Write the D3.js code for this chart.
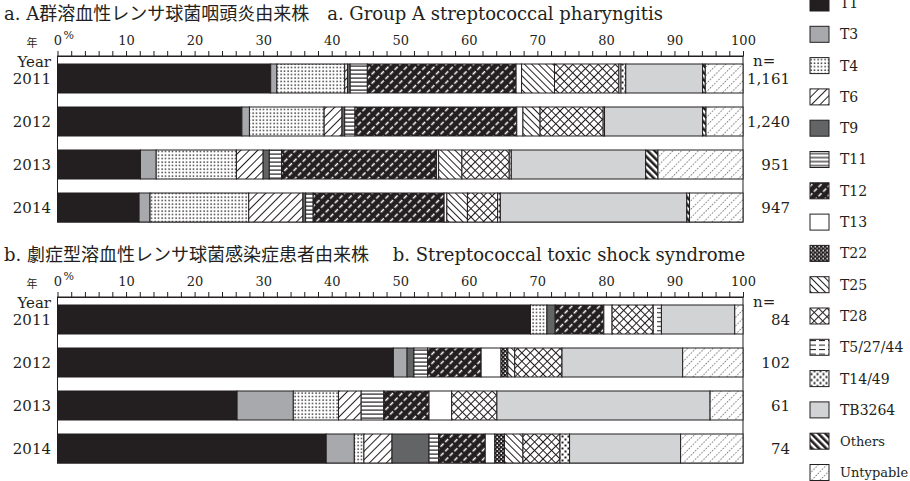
<!DOCTYPE html>
<html>
<head>
<meta charset="utf-8">
<script src="https://cdn.jsdelivr.net/npm/d3@7"></script>
<style>
  body { margin: 0; background: #fff; }
  svg { display: block; }
  text { font-family: "DejaVu Serif", "Noto Sans CJK JP", serif; fill: #231f20; }
  .axis path, .axis line { stroke: #231f20; stroke-width: 1; }
  .seg { stroke: #231f20; stroke-width: 1; }
</style>
</head>
<body>
<div id="chart"></div>
<script>
// emm types, in stacking / legend order
var types = ["T1", "T3", "T4", "T6", "T9", "T11", "T12", "T13", "T22", "T25",
             "T28", "T5/27/44", "T14/49", "TB3264", "Others", "Untypable"];
var years = ["2011", "2012", "2013", "2014"];
var percentTicks = [0, 10, 20, 30, 40, 50, 60, 70, 80, 90, 100];

// a. pharyngitis isolates, % per type
var phar2011 = [31.1, 0.9, 9.9, 0.4, 0.4, 2.5, 21.7, 0.8, 0, 4.8, 9.4, 0.3, 0.7, 11.2, 0.4, 5.5];
var phar2012 = [26.9, 1.1, 10.9, 2.6, 0.4, 1.5, 23.6, 0.9, 0, 2.5, 9.2, 0, 0.2, 14.3, 0.5, 5.4];
var phar2013 = [12.1, 2.3, 11.7, 3.9, 0.9, 1.8, 22.6, 0.3, 0, 3.4, 6.9, 0, 0.3, 19.6, 1.8, 12.4];
var phar2014 = [11.9, 1.6, 14.4, 7.9, 0.4, 1.1, 19.1, 0.4, 0, 3.0, 4.4, 0, 0.4, 27.2, 0.4, 7.8];
var pharN = ["1,161", "1,240", "951", "947"];

// b. STSS isolates, % per type
var stss2011 = [69.0, 0, 2.4, 0, 1.2, 0, 7.1, 1.2, 0, 0, 6.0, 1.2, 0, 10.7, 0, 1.2];
var stss2012 = [49.0, 2.0, 0, 0, 1.0, 2.0, 7.8, 2.9, 1.0, 1.0, 6.9, 0, 0, 17.6, 0, 8.8];
var stss2013 = [26.2, 8.2, 6.6, 3.3, 0, 3.3, 6.6, 3.3, 0, 0, 6.6, 0, 0, 31.1, 0, 4.8];
var stss2014 = [39.2, 4.1, 1.4, 4.1, 5.4, 1.4, 6.8, 1.4, 1.4, 2.7, 5.4, 0, 1.4, 16.2, 0, 9.1];
var stssN = ["84", "102", "61", "74"];

var ink = "#231f20";

var svg = d3.select("#chart").append("svg")
    .attr("width", 910)
    .attr("height", 481);

var defs = svg.append("defs");

//--------------------------------------------------------------------------
// fill patterns
//
function pattern(id, w, h, rotate, bg) {
    var p = defs.append("pattern")
        .attr("id", id)
        .attr("patternUnits", "userSpaceOnUse")
        .attr("width", w)
        .attr("height", h);
    if (rotate) p.attr("patternTransform", "rotate(" + rotate + ")");
    p.append("rect").attr("width", w).attr("height", h).attr("fill", bg);
    return p;
}

var p;
p = pattern("pT4", 3.5, 3.5, 0, "#fff");
p.append("rect").attr("x", 0.4).attr("y", 0.4).attr("width", 1.4).attr("height", 1.4).attr("fill", ink);

p = pattern("pT6", 6, 6, 45, "#fff");
p.append("rect").attr("x", 0).attr("width", 1).attr("height", 6).attr("fill", ink);

p = pattern("pT11", 6, 4, 0, "#fff");
p.append("rect").attr("y", 1.5).attr("width", 6).attr("height", 1.2).attr("fill", ink);

p = pattern("pT12", 6.5, 6.5, 45, ink);
p.append("rect").attr("x", 2.6).attr("y", 0).attr("width", 1.5).attr("height", 4.3).attr("fill", "#fff");

p = pattern("pT22", 4, 4, 0, ink);
p.append("rect").attr("x", 0.5).attr("y", 0.5).attr("width", 1.5).attr("height", 1.5).attr("fill", "#fff");
p.append("rect").attr("x", 2.5).attr("y", 2.5).attr("width", 1.2).attr("height", 1.2).attr("fill", "#fff");

p = pattern("pT25", 5, 5, -45, "#fff");
p.append("rect").attr("x", 0).attr("width", 1).attr("height", 5).attr("fill", ink);

p = pattern("pT28", 6, 6, 45, "#fff");
p.append("rect").attr("x", 0).attr("width", 1).attr("height", 6).attr("fill", ink);
p.append("rect").attr("y", 0).attr("width", 6).attr("height", 1).attr("fill", ink);

p = pattern("pT5", 9, 4.5, 0, "#fff");
p.append("rect").attr("x", 0).attr("y", 1.8).attr("width", 6).attr("height", 1).attr("fill", ink);

p = pattern("pT14", 6, 6, 0, "#fff");
p.append("rect").attr("x", 0.5).attr("y", 0.5).attr("width", 2).attr("height", 2).attr("fill", ink);
p.append("rect").attr("x", 3.5).attr("y", 3.5).attr("width", 2).attr("height", 2).attr("fill", ink);

p = pattern("pOthers", 5, 5, -45, "#fff");
p.append("rect").attr("x", 0).attr("width", 2.6).attr("height", 5).attr("fill", ink);

p = pattern("pUnt", 6, 3, 45, "#fff");
p.append("rect").attr("x", 0).attr("y", 0).attr("width", 0.8).attr("height", 1.5).attr("fill", "#555");

var fills = {
    "T1": ink, "T3": "#a7a9ac", "T4": "url(#pT4)", "T6": "url(#pT6)",
    "T9": "#636466", "T11": "url(#pT11)", "T12": "url(#pT12)", "T13": "#fff",
    "T22": "url(#pT22)", "T25": "url(#pT25)", "T28": "url(#pT28)",
    "T5/27/44": "url(#pT5)", "T14/49": "url(#pT14)", "TB3264": "#d1d3d4",
    "Others": "url(#pOthers)", "Untypable": "url(#pUnt)"
};

//--------------------------------------------------------------------------
// one stacked panel
//
var x = d3.scaleLinear().domain([0, 100]).range([57.5, 743]);

function panel(top, title, rows, nLabels) {

    var axisY = top + 36,
        firstBar = axisY + 8;

    var y = d3.scaleBand()
        .domain(years)
        .range([firstBar - 7, firstBar - 7 + 43 * years.length])
        .paddingInner(14 / 43)
        .paddingOuter(7 / 43);

    var g = svg.append("g");

    g.append("text")
        .attr("x", 4)
        .attr("y", top)
        .attr("font-size", 18)
        .text(title);

    // frame
    g.append("rect")
        .attr("x", x(0))
        .attr("y", axisY)
        .attr("width", x(100) - x(0))
        .attr("height", y(years[years.length - 1]) + y.bandwidth() - axisY)
        .attr("fill", "none")
        .attr("stroke", ink);

    var axis = d3.axisTop(x)
        .tickValues(d3.range(0, 101, 2))
        .tickSize(5)
        .tickSizeOuter(0)
        .tickPadding(6)
        .tickFormat(function (d) { return percentTicks.indexOf(d) >= 0 ? d : ""; });

    var ax = g.append("g")
        .attr("class", "axis")
        .attr("transform", "translate(0," + axisY + ")")
        .call(axis);
    ax.selectAll("text")
        .attr("font-size", 13)
        .attr("font-family", "DejaVu Serif")
        .attr("fill", ink);

    g.append("text")
        .attr("x", x(0) + 6)
        .attr("y", axisY - 17)
        .attr("font-size", 11)
        .text("%");

    g.append("text")
        .attr("x", 32)
        .attr("y", axisY - 9)
        .attr("font-size", 11)
        .attr("text-anchor", "middle")
        .text("年");
    g.append("text")
        .attr("x", 51)
        .attr("y", axisY + 11)
        .attr("font-size", 15)
        .attr("text-anchor", "end")
        .text("Year");

    g.append("text")
        .attr("x", 753)
        .attr("y", axisY + 10)
        .attr("font-size", 15)
        .text("n=");

    var data = years.map(function (yr, i) {
        var o = {year: yr, n: nLabels[i]};
        types.forEach(function (t, j) { o[t] = rows[i][j]; });
        return o;
    });

    var stack = d3.stack().keys(types)(data);

    g.selectAll("g.layer")
        .data(stack)
        .enter().append("g")
        .attr("class", "layer")
        .attr("fill", function (d) { return fills[d.key]; })
        .selectAll("rect")
        .data(function (d) { return d.filter(function (e) { return e[1] - e[0] > 0; }); })
        .enter().append("rect")
        .attr("class", "seg")
        .attr("x", function (d) { return x(d[0]); })
        .attr("y", function (d) { return y(d.data.year); })
        .attr("width", function (d) { return x(d[1]) - x(d[0]); })
        .attr("height", y.bandwidth());

    g.selectAll("text.yr")
        .data(data)
        .enter().append("text")
        .attr("class", "yr")
        .attr("x", 51)
        .attr("y", function (d) { return y(d.year) + y.bandwidth() / 2; })
        .attr("dy", "0.35em")
        .attr("font-size", 15)
        .attr("text-anchor", "end")
        .text(function (d) { return d.year; });

    g.selectAll("text.nval")
        .data(data)
        .enter().append("text")
        .attr("class", "nval")
        .attr("x", 790)
        .attr("y", function (d) { return y(d.year) + y.bandwidth() / 2; })
        .attr("dy", "0.35em")
        .attr("font-size", 15)
        .attr("text-anchor", "end")
        .text(function (d) { return d.n; });
}

panel(20, "a. A群溶血性レンサ球菌咽頭炎由来株\u3000a. Group A streptococcal pharyngitis",
      [phar2011, phar2012, phar2013, phar2014], pharN);
panel(261, "b. 劇症型溶血性レンサ球菌感染症患者由来株\u3000 b. Streptococcal toxic shock syndrome",
      [stss2011, stss2012, stss2013, stss2014], stssN);

//--------------------------------------------------------------------------
// legend
//
var legend = svg.append("g").selectAll("g")
    .data(types)
    .enter().append("g")
    .attr("transform", function (d, i) { return "translate(810," + (3 + i * 31.3) + ")"; });

legend.append("rect")
    .attr("x", 0)
    .attr("y", -8)
    .attr("width", 19)
    .attr("height", 16)
    .attr("fill", function (d) { return fills[d]; })
    .attr("stroke", ink);

legend.append("text")
    .attr("x", 30)
    .attr("dy", "0.35em")
    .attr("font-size", function (d) { return d == "Others" || d == "Untypable" ? 13 : 14; })
    .text(function (d) { return d; });
</script>
</body>
</html>
